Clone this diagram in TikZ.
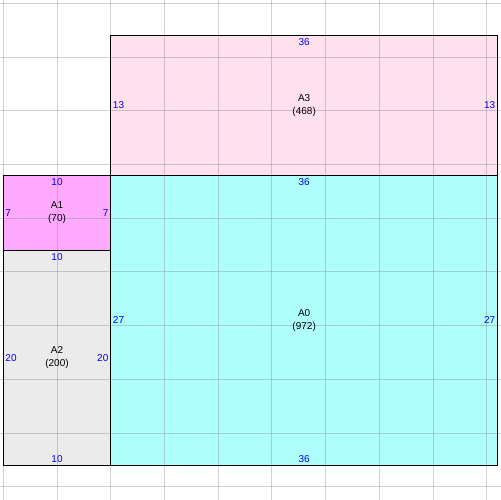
\documentclass[tikz,border=0pt]{standalone}
\usepackage{fontspec}
\setmainfont{Liberation Sans}
\definecolor{pinkA}{RGB}{255,225,238}
\definecolor{magA}{RGB}{255,170,255}
\definecolor{greyA}{RGB}{235,235,235}
\definecolor{cyanA}{RGB}{176,255,255}
\definecolor{gridA}{RGB}{137,137,137}
\begin{document}
\begin{tikzpicture}[x=8.06pt,y=-8.06pt,
  gridline/.style={gridA,opacity=0.4,line width=0.75pt},
  blk/.style={draw=black,line width=1pt},
  side/.style={text=blue,inner sep=0pt,font=\fontsize{7.5}{9}\selectfont},
  tag/.style={align=center,inner sep=0pt,font=\fontsize{7.5}{9.75}\selectfont}]
\useasboundingbox (-0.307,-0.307) rectangle (46.226,46.226);

% fills
\fill[pinkA] (10,3) rectangle (46,16);
\fill[cyanA] (10,16) rectangle (46,43);
\fill[magA] (0,16) rectangle (10,23);
\fill[greyA] (0,23) rectangle (10,43);

% grid
\foreach \k in {0,5,...,45} {
  \draw[gridline] (\k,-0.5) -- (\k,46.5);
  \draw[gridline] (-0.5,\k) -- (46.5,\k);
}

% outlines
\draw[blk] (10,3) rectangle (46,16);
\draw[blk] (10,16) rectangle (46,43);
\draw[blk] (0,16) rectangle (10,23);
\draw[blk] (0,23) rectangle (10,43);

% A3
\node[tag] (a3) at (28,9.5) {A3\\(468)};
\node[side] (a3top) at (28,3.62) {36};
\node[side,anchor=west] (a3left) at (10.18,9.5) {13};
\node[side,anchor=east] (a3right) at (45.8,9.5) {13};

% A0
\node[tag] (a0) at (28,29.5) {A0\\(972)};
\node[side] (a0top) at (28,16.62) {36};
\node[side,anchor=west] (a0left) at (10.18,29.5) {27};
\node[side,anchor=east] (a0right) at (45.8,29.5) {27};
\node[side] (a0bot) at (28,42.42) {36};

% A1
\node[tag] (a1) at (5,19.5) {A1\\(70)};
\node[side] (a1top) at (5,16.62) {10};
\node[side,anchor=west] (a1left) at (0.18,19.5) {7};
\node[side,anchor=east] (a1right) at (9.8,19.5) {7};

% A2
\node[tag] (a2) at (5,33) {A2\\(200)};
\node[side] (a2top) at (5,23.62) {10};
\node[side,anchor=west] (a2left) at (0.18,33) {20};
\node[side,anchor=east] (a2right) at (9.8,33) {20};
\node[side] (a2bot) at (5,42.42) {10};
\end{tikzpicture}
\end{document}
